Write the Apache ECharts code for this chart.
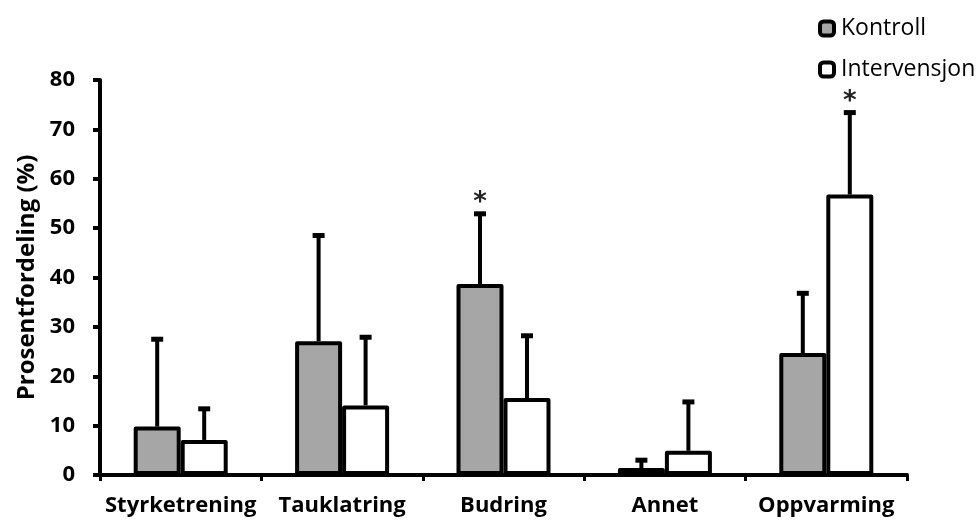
<!DOCTYPE html>
<html>
<head>
<meta charset="utf-8">
<script src="https://cdn.jsdelivr.net/npm/echarts@6/dist/echarts.min.js"></script>
<style>
html,body{margin:0;padding:0;background:#fff;}
#c{width:979px;height:521px;}
</style>
</head>
<body>
<div id="c"></div>
<script>
var categories = ['Styrketrening', 'Tauklatring', 'Budring', 'Annet', 'Oppvarming'];
var kontroll = [9.8, 27.1, 38.7, 1.4, 24.7];
var kontrollSD = [17.8, 21.5, 14.3, 1.7, 12.2];
var kontrollSig = [0, 0, 1, 0, 0];
var intervensjon = [7.1, 14.1, 15.6, 4.9, 56.8];
var intervensjonSD = [6.4, 13.9, 12.7, 10.0, 16.7];
var intervensjonSig = [0, 0, 0, 0, 1];
var yTicks = [0, 10, 20, 30, 40, 50, 60, 70, 80];

var FONT = '"Open Sans", sans-serif';
var BAR_W = 47;

function errData(mean, sd, sig) {
  return mean.map(function (m, i) { return [i, m, m + sd[i], sig[i]]; });
}

function errRender(offset) {
  return function (params, api) {
    var i = api.value(0);
    var base = api.coord([i, api.value(1)]);
    var top = api.coord([i, api.value(2)]);
    var x = base[0] + offset;
    var children = [
      { type: 'line', shape: { x1: x, y1: base[1], x2: x, y2: top[1] },
        style: { stroke: '#000', lineWidth: 4 } },
      { type: 'line', shape: { x1: x - 6, y1: top[1] + 0.5, x2: x + 6, y2: top[1] + 0.5 },
        style: { stroke: '#000', lineWidth: 5 } }
    ];
    if (api.value(3)) {
      children.push({ type: 'text', x: x, y: top[1] - 10,
        style: { text: '*', fontSize: 26, fontFamily: '"DejaVu Sans", sans-serif', fontWeight: 'bold',
          fill: '#222', align: 'center', verticalAlign: 'middle' } });
    }
    return { type: 'group', children: children };
  };
}

var chart = echarts.init(document.getElementById('c'), null, { renderer: 'canvas' });
chart.setOption({
  animation: false,
  backgroundColor: '#fff',
  grid: { left: 100, right: 72, top: 80, bottom: 46 },
  legend: {
    orient: 'vertical',
    left: 813,
    top: 12,
    itemWidth: 14,
    itemHeight: 14,
    itemGap: 18,
    icon: 'roundRect',
    itemStyle: { borderColor: '#000', borderWidth: 4 },
    textStyle: { fontFamily: FONT, fontSize: 23, lineHeight: 23, color: '#000', padding: [0, 0, 0, 2] },
    data: ['Kontroll', 'Intervensjon']
  },
  xAxis: {
    type: 'category',
    data: categories,
    axisLine: { lineStyle: { color: '#000', width: 4 } },
    axisTick: { show: true, length: 6, lineStyle: { color: '#000', width: 3 } },
    axisLabel: { interval: 0, color: '#000', fontFamily: FONT, fontWeight: 'bold', fontSize: 22, margin: 20 }
  },
  yAxis: {
    type: 'value',
    min: 0,
    max: 80,
    interval: 10,
    name: 'Prosentfordeling (%)',
    nameLocation: 'middle',
    nameGap: 59,
    nameTextStyle: { color: '#000', fontFamily: FONT, fontWeight: 'bold', fontSize: 24 },
    splitLine: { show: false },
    axisLine: { show: true, lineStyle: { color: '#000', width: 4 } },
    axisTick: { show: true, length: 7, lineStyle: { color: '#000', width: 4 } },
    axisLabel: { color: '#000', fontFamily: FONT, fontWeight: 'bold', fontSize: 22, margin: 25,
      formatter: function (v) { return yTicks.indexOf(v) >= 0 ? String(v) : ''; } }
  },
  series: [
    { name: 'Kontroll', type: 'bar', data: kontroll, barWidth: BAR_W, barGap: '0%',
      itemStyle: { color: '#a6a6a6', borderColor: '#000', borderWidth: 4, borderJoin: 'round' }, z: 2 },
    { name: 'Intervensjon', type: 'bar', data: intervensjon, barWidth: BAR_W, barGap: '0%',
      itemStyle: { color: '#fff', borderColor: '#000', borderWidth: 4, borderJoin: 'round' }, z: 2 },
    { name: 'errK', type: 'custom', renderItem: errRender(-BAR_W / 2),
      data: errData(kontroll, kontrollSD, kontrollSig), encode: { x: 0, y: [1, 2] }, z: 3, silent: true },
    { name: 'errI', type: 'custom', renderItem: errRender(BAR_W / 2),
      data: errData(intervensjon, intervensjonSD, intervensjonSig), encode: { x: 0, y: [1, 2] }, z: 3, silent: true }
  ]
});
</script>
</body>
</html>
